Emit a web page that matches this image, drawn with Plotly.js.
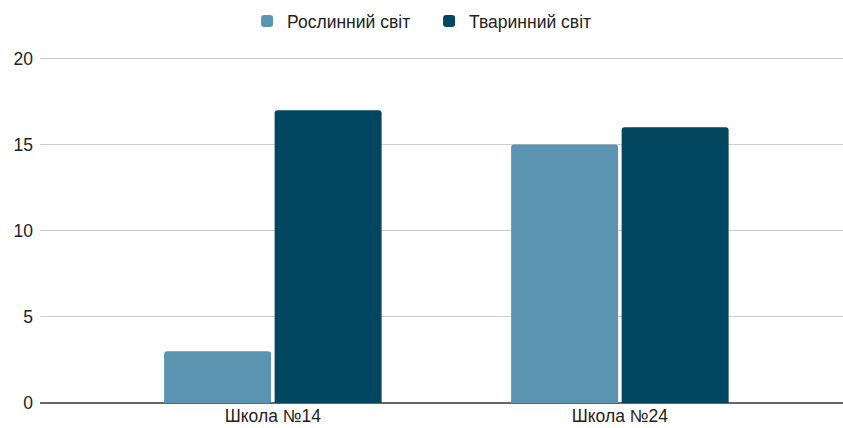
<!DOCTYPE html>
<html>
<head>
<meta charset="utf-8">
<script src="https://cdn.plot.ly/plotly-3.0.1.min.js"></script>
<style>html,body{margin:0;padding:0;background:#fff;}#chart{width:843px;height:428px;}</style>
</head>
<body>
<div id="chart"></div>
<script>
const categories = ["Школа №14", "Школа №24"];
const seriesNames = ["Рослинний світ", "Тваринний світ"];
const plantValues = [3, 15];
const animalValues = [17, 16];
const yTicks = [0, 5, 10, 15, 20];

const colors = ["#5b94b1", "#03465f"];
const font = {family: "Liberation Sans, Arial, sans-serif", size: 17.5, color: "#222222"};

const traces = [
  {type: "bar", name: seriesNames[0], x: categories, y: plantValues,
   marker: {color: colors[0], cornerradius: 3}, hoverinfo: "none"},
  {type: "bar", name: seriesNames[1], x: categories, y: animalValues,
   marker: {color: colors[1], cornerradius: 3}, hoverinfo: "none"}
];

const layout = {
  width: 843, height: 428,
  margin: {l: 40, r: 0, t: 54.5, b: 25, autoexpand: false},
  paper_bgcolor: "#ffffff", plot_bgcolor: "#ffffff",
  font: font,
  barmode: "group",
  bargap: 0.363,
  bargroupgap: 0.032,
  showlegend: true,
  legend: {orientation: "h", x: 0.509, xanchor: "center", xref: "container",
           y: 1 - 21 / 428, yanchor: "middle", yref: "container",
           font: font, itemwidth: 30, entrywidth: 137, entrywidthmode: "pixels",
           traceorder: "normal"},
  xaxis: {type: "category", range: [-0.671, 1.643], showgrid: false, zeroline: false,
          showline: false, ticks: "", tickfont: font, fixedrange: true},
  yaxis: {range: [0, 20.2], tickvals: yTicks, ticktext: yTicks.map(String), showgrid: true,
          gridcolor: "#cccccc", gridwidth: 1, zeroline: true, zerolinecolor: "#666666",
          zerolinewidth: 2, showline: false, ticks: "", tickfont: font,
          ticklabelstandoff: 6, fixedrange: true}
};

Plotly.newPlot("chart", traces, layout, {displayModeBar: false, staticPlot: true});
</script>
</body>
</html>
